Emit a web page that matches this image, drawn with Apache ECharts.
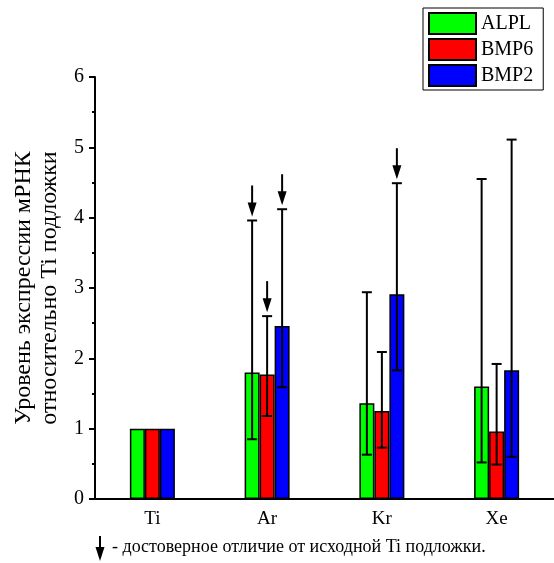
<!DOCTYPE html>
<html>
<head>
<meta charset="utf-8">
<script src="https://cdn.jsdelivr.net/npm/echarts@6/dist/echarts.min.js"></script>
<style>
  html, body { margin: 0; padding: 0; background: #fff; }
  #chart { width: 554px; height: 563px; }
</style>
</head>
<body>
<div id="chart"></div>
<script>
// ---- data ----
const categories = ['Ti', 'Ar', 'Kr', 'Xe'];
const seriesNames = ['ALPL', 'BMP6', 'BMP2'];
const seriesColors = ['#00ff00', '#ff0000', '#0000ff'];

const alpl = [1.0, 1.80, 1.36, 1.60];
const bmp6 = [1.0, 1.77, 1.25, 0.96];
const bmp2 = [1.0, 2.46, 2.91, 1.83];

// error bar ranges [low, high], null = no error bar
const alplErr = [null, [0.85, 3.96], [0.63, 2.94], [0.52, 4.55]];
const bmp6Err = [null, [1.18, 2.60], [0.73, 2.09], [0.49, 1.92]];
const bmp2Err = [null, [1.59, 4.12], [1.83, 4.49], [0.60, 5.11]];

// significance arrows: [categoryIndex, seriesIndex]
const arrows = [[1, 0], [1, 1], [1, 2], [2, 2]];

const yTicks = [0, 1, 2, 3, 4, 5, 6];

// ---- build ----
const FONT = '"Liberation Serif", "Times New Roman", serif';
const BAR_W = 15;
const values = [alpl, bmp6, bmp2];
const errs = [alplErr, bmp6Err, bmp2Err];

const errData = [];
errs.forEach((list, s) => {
  list.forEach((e, c) => {
    if (e) errData.push([c, s, e[0], e[1]]);
  });
});
const arrowData = arrows.map(a => [a[0], a[1], errs[a[1]][a[0]][1]]);

const chart = echarts.init(document.getElementById('chart'));

const barSeries = seriesNames.map((name, i) => ({
  name: name,
  type: 'bar',
  barWidth: BAR_W,
  barGap: '0%',
  data: values[i],
  itemStyle: { color: seriesColors[i], borderColor: '#000', borderWidth: 1.5 },
  z: 2
}));

function errRender(params, api) {
  const c = api.value(0), s = api.value(1);
  const off = (s - 1) * BAR_W;
  const lo = api.coord([c, api.value(2)]);
  const hi = api.coord([c, api.value(3)]);
  const x = lo[0] + off;
  const st = { stroke: '#000', lineWidth: 2 };
  return {
    type: 'group',
    children: [
      { type: 'line', shape: { x1: x, y1: lo[1], x2: x, y2: hi[1] }, style: st },
      { type: 'line', shape: { x1: x - 5, y1: hi[1], x2: x + 5, y2: hi[1] }, style: st },
      { type: 'line', shape: { x1: x - 5, y1: lo[1], x2: x + 5, y2: lo[1] }, style: st }
    ]
  };
}

function arrowRender(params, api) {
  const c = api.value(0), s = api.value(1);
  const off = (s - 1) * BAR_W;
  const p = api.coord([c, api.value(2)]);
  const x = p[0] + off;
  const tip = p[1] - 4;
  return {
    type: 'group',
    children: [
      { type: 'line', shape: { x1: x, y1: tip - 31, x2: x, y2: tip - 10 }, style: { stroke: '#000', lineWidth: 2 } },
      { type: 'polygon', shape: { points: [[x - 4.5, tip - 14], [x + 4.5, tip - 14], [x, tip]] }, style: { fill: '#000' } }
    ]
  };
}

const option = {
  backgroundColor: '#fff',
  animation: false,
  textStyle: { fontFamily: FONT, color: '#000' },
  grid: { left: 95, right: 0, top: 77, bottom: 64, outerBoundsMode: 'none' },
  legend: {
    data: seriesNames,
    orient: 'vertical',
    left: 423,
    top: 8,
    icon: 'rect',
    itemWidth: 47,
    itemHeight: 21,
    itemGap: 3,
    padding: [4, 10, 3, 5],
    borderColor: '#000',
    borderWidth: 1,
    itemStyle: { borderColor: '#000', borderWidth: 2 },
    textStyle: { fontFamily: FONT, fontSize: 20, color: '#000' },
    selectedMode: false
  },
  xAxis: {
    type: 'category',
    data: categories,
    axisLine: { lineStyle: { color: '#000', width: 2 } },
    axisTick: { show: false },
    axisLabel: { fontFamily: FONT, fontSize: 19, color: '#000', margin: 11 }
  },
  yAxis: {
    type: 'value',
    min: yTicks[0],
    max: yTicks[yTicks.length - 1],
    interval: 1,
    name: 'Уровень экспрессии мРНК\nотносительно Ti подложки',
    nameLocation: 'middle',
    nameGap: 30,
    nameTextStyle: { fontFamily: FONT, fontSize: 24, color: '#000', lineHeight: 26 },
    axisLine: { show: true, lineStyle: { color: '#000', width: 2 } },
    axisTick: { show: true, length: 6, lineStyle: { color: '#000', width: 2 } },
    minorTick: { show: true, splitNumber: 2, length: 3, lineStyle: { color: '#000', width: 2 } },
    splitLine: { show: false },
    axisLabel: { fontFamily: FONT, fontSize: 20, color: '#000', margin: 11 }
  },
  graphic: [
    { type: 'line', shape: { x1: 100, y1: 536, x2: 100, y2: 550 }, style: { stroke: '#000', lineWidth: 2 } },
    { type: 'polygon', shape: { points: [[95.5, 547], [104.5, 547], [100, 561]] }, style: { fill: '#000' } },
    { type: 'text', left: 112, top: 538, style: { text: '- достоверное отличие от исходной Ti подложки.', font: '18px ' + FONT, fill: '#000' } }
  ],
  series: barSeries.concat([
    {
      type: 'custom',
      renderItem: errRender,
      data: errData,
      encode: { x: 0, y: [2, 3] },
      z: 3,
      silent: true
    },
    {
      type: 'custom',
      renderItem: arrowRender,
      data: arrowData,
      encode: { x: 0, y: 2 },
      z: 3,
      silent: true
    }
  ])
};

chart.setOption(option);
</script>
</body>
</html>
